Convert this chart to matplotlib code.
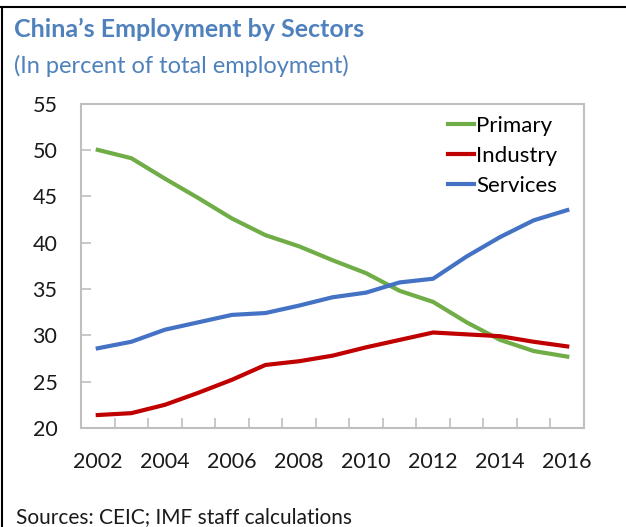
import matplotlib
matplotlib.use("Agg")
import matplotlib.pyplot as plt
from matplotlib.lines import Line2D

years = list(range(2002, 2017))
primary = [50.0, 49.1, 46.9, 44.8, 42.6, 40.8, 39.6, 38.1, 36.7, 34.8, 33.6, 31.4, 29.5, 28.3, 27.7]
industry = [21.4, 21.6, 22.5, 23.8, 25.2, 26.8, 27.2, 27.8, 28.7, 29.5, 30.3, 30.1, 29.9, 29.3, 28.8]
services = [28.6, 29.3, 30.6, 31.4, 32.2, 32.4, 33.2, 34.1, 34.6, 35.7, 36.1, 38.5, 40.6, 42.4, 43.5]
xtick_labels = ["2002", "2004", "2006", "2008", "2010", "2012", "2014", "2016"]
yticks = [20, 25, 30, 35, 40, 45, 50, 55]

plt.rcParams['font.family'] = ['Lato', 'DejaVu Sans']

W, H = 626, 527
fig = plt.figure(figsize=(W / 100, H / 100), dpi=100)
ax = fig.add_axes([81 / W, 1 - 428 / H, (584 - 81) / W, (428 - 103.5) / H])

ax.plot(years, primary, color="#70AD47", lw=3, label="Primary")
ax.plot(years, industry, color="#C00000", lw=3, label="Industry")
ax.plot(years, services, color="#4472C4", lw=3, label="Services")

ax.set_xlim(2001.5, 2016.5)
ax.set_ylim(20, 55)
ax.set_yticks(yticks)
ax.set_yticklabels([str(v) for v in yticks], fontsize=15.5, color="#1a1a1a")
ax.set_xticks([int(s) for s in xtick_labels])
ax.set_xticklabels(xtick_labels, fontsize=15.5, color="#1a1a1a")
ax.tick_params(axis="x", length=0, pad=17)
ax.set_xticks([y + 0.5 for y in years[:-1]], minor=True)
ax.tick_params(axis="x", which="minor", direction="in", length=7, color="#BFBFBF", width=1.2)
ax.tick_params(axis="y", direction="in", length=7, color="#BFBFBF", width=1.2, pad=17)
for s in ax.spines.values():
    s.set_color("#BFBFBF")
    s.set_linewidth(1.5)

leg = ax.legend(loc="upper right", frameon=False, fontsize=16, handlelength=1.2,
                handletextpad=0.08, labelspacing=0.45, bbox_to_anchor=(0.971, 1.0),
                borderaxespad=0.15)

fig.text(14 / W, 1 - 29 / H, "China\u2019s Employment by Sectors", fontsize=18, fontweight="bold",
         color="#4F81BD", va="center", ha="left")
fig.text(14 / W, 1 - 66 / H, "(In percent of total employment)", fontsize=17,
         color="#4F81BD", va="center", ha="left")
fig.text(16 / W, 1 - 517 / H, "Sources: CEIC; IMF staff calculations", fontsize=15,
         color="#1a1a1a", va="center", ha="left")

fig.add_artist(Line2D([0, 1], [1 - 6.5 / H, 1 - 6.5 / H], transform=fig.transFigure, color="black", lw=1.5))
fig.add_artist(Line2D([1.5 / W, 1.5 / W], [0, 1 - 6.5 / H], transform=fig.transFigure, color="black", lw=1.5))

fig.savefig("out.png", dpi=100)
